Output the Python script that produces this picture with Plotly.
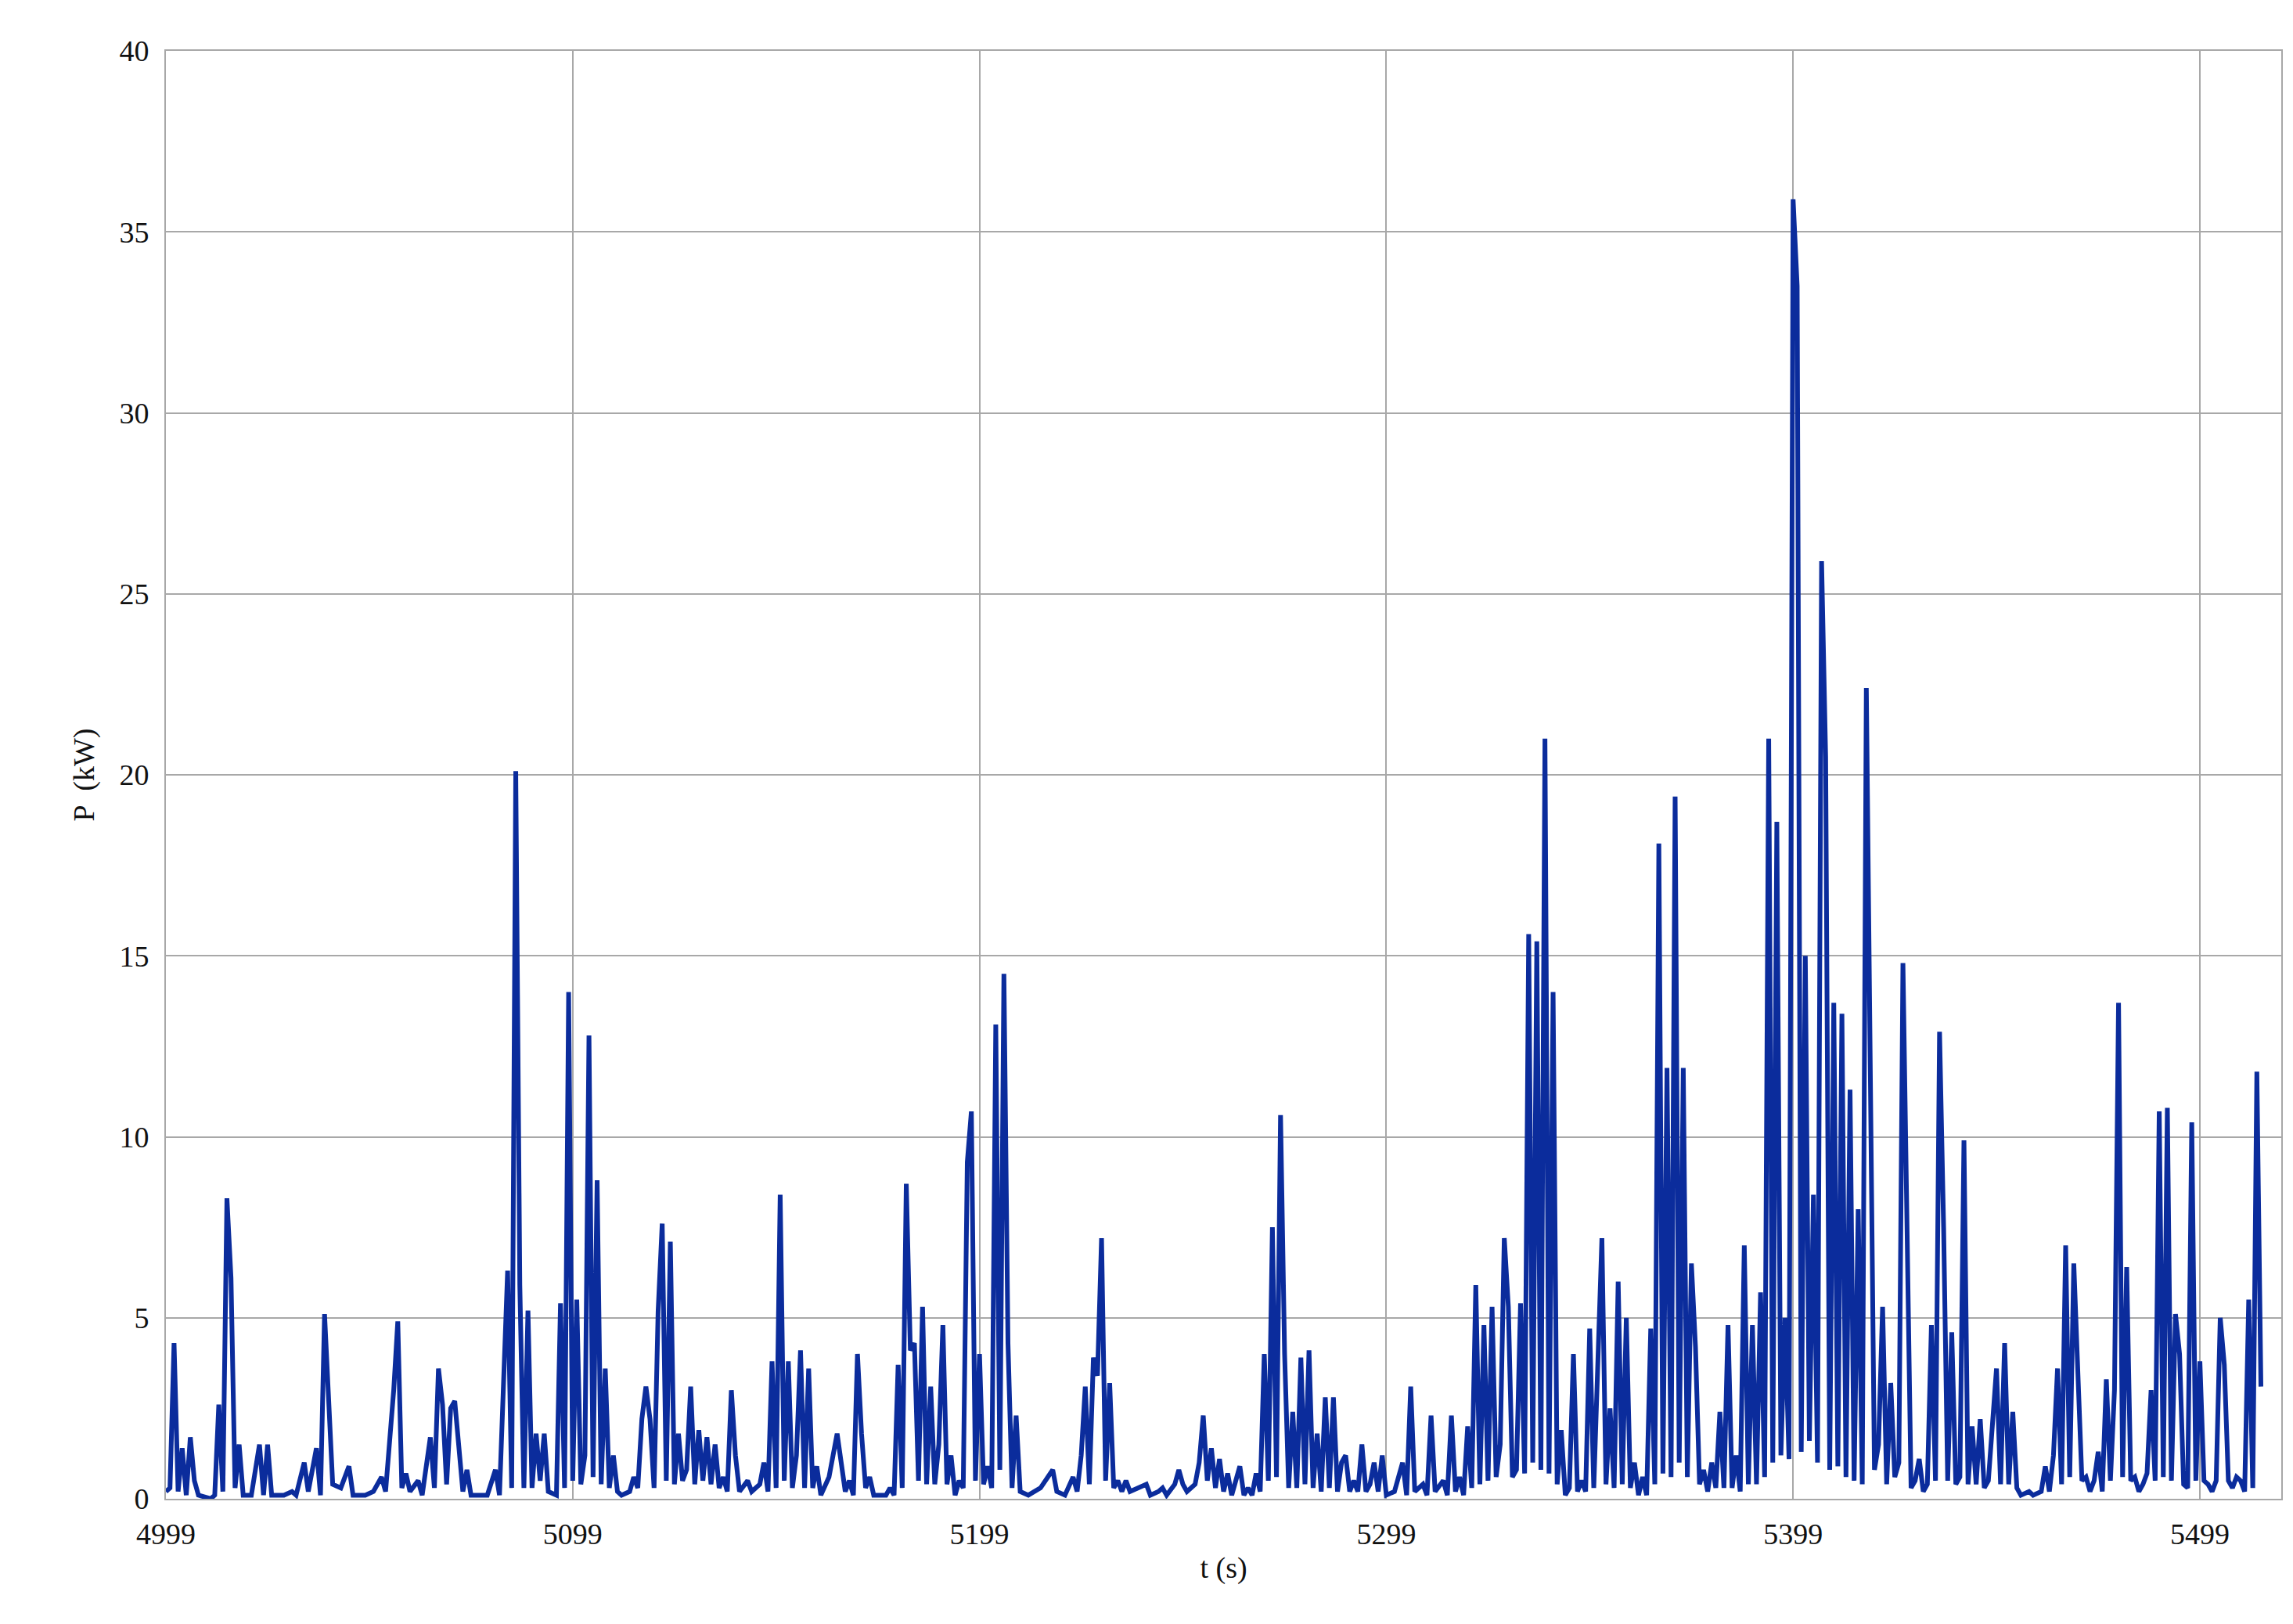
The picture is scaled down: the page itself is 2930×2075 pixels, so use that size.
import plotly.graph_objects as go

# time (s) and power (kW)
t_s = [
    4999, 5000, 5001, 5002, 5003, 5004, 5005, 5006, 5007, 5010, 5011, 5012, 5013, 5014, 5015, 5016,
    5017, 5018, 5020, 5022, 5023, 5024, 5025, 5028, 5030, 5031, 5033, 5034, 5036, 5037, 5038, 5039,
    5040, 5042, 5044, 5045, 5048, 5050, 5052, 5053, 5055, 5056, 5057, 5058, 5059, 5061, 5062, 5064,
    5065, 5066, 5067, 5068, 5069, 5070, 5071, 5072, 5073, 5074, 5076, 5078, 5080, 5081, 5083, 5084,
    5085, 5086, 5087, 5088, 5089, 5090, 5091, 5092, 5093, 5095, 5096, 5097, 5098, 5099, 5100, 5101,
    5102, 5103, 5104, 5105, 5106, 5107, 5108, 5109, 5110, 5111, 5113, 5114, 5115, 5116, 5117, 5118,
    5119, 5120, 5121, 5122, 5123, 5124, 5125, 5126, 5127, 5128, 5129, 5130, 5131, 5132, 5133, 5134,
    5135, 5136, 5137, 5138, 5139, 5140, 5142, 5143, 5145, 5146, 5147, 5148, 5149, 5150, 5151, 5152,
    5153, 5154, 5155, 5156, 5157, 5158, 5159, 5160, 5162, 5163, 5164, 5165, 5166, 5167, 5168, 5169,
    5170, 5171, 5172, 5173, 5176, 5177, 5178, 5179, 5180, 5181, 5182, 5183, 5184, 5185, 5186, 5187,
    5188, 5189, 5190, 5191, 5192, 5193, 5194, 5195, 5196, 5197, 5198, 5199, 5200, 5201, 5202, 5203,
    5204, 5205, 5206, 5207, 5208, 5209, 5211, 5214, 5217, 5218, 5220, 5222, 5223, 5224, 5225, 5226,
    5227, 5228, 5229, 5230, 5231, 5232, 5233, 5234, 5235, 5236, 5238, 5240, 5241, 5243, 5244, 5245,
    5247, 5248, 5249, 5250, 5252, 5253, 5254, 5255, 5256, 5257, 5258, 5259, 5260, 5261, 5262, 5263,
    5264, 5265, 5266, 5267, 5268, 5269, 5270, 5271, 5272, 5273, 5274, 5275, 5276, 5277, 5278, 5279,
    5280, 5281, 5282, 5283, 5284, 5285, 5286, 5287, 5288, 5289, 5290, 5291, 5292, 5293, 5294, 5295,
    5296, 5297, 5298, 5299, 5301, 5303, 5304, 5305, 5306, 5308, 5309, 5310, 5311, 5313, 5314, 5315,
    5316, 5317, 5318, 5319, 5320, 5321, 5322, 5323, 5324, 5325, 5326, 5327, 5328, 5329, 5330, 5331,
    5332, 5333, 5334, 5335, 5336, 5337, 5338, 5339, 5340, 5341, 5342, 5343, 5344, 5345, 5346, 5347,
    5348, 5349, 5350, 5352, 5353, 5354, 5355, 5356, 5357, 5358, 5359, 5360, 5361, 5362, 5363, 5364,
    5365, 5366, 5367, 5368, 5369, 5370, 5371, 5372, 5373, 5374, 5375, 5376, 5377, 5378, 5379, 5380,
    5381, 5382, 5383, 5384, 5385, 5386, 5387, 5388, 5389, 5390, 5391, 5392, 5393, 5394, 5395, 5396,
    5397, 5398, 5399, 5400, 5401, 5402, 5403, 5404, 5405, 5406, 5407, 5408, 5409, 5410, 5411, 5412,
    5413, 5414, 5415, 5416, 5417, 5418, 5419, 5420, 5421, 5422, 5423, 5424, 5425, 5426, 5427, 5428,
    5429, 5430, 5431, 5432, 5433, 5434, 5435, 5436, 5437, 5438, 5439, 5440, 5441, 5442, 5443, 5444,
    5445, 5446, 5447, 5448, 5449, 5450, 5451, 5452, 5453, 5454, 5455, 5457, 5458, 5460, 5461, 5462,
    5463, 5464, 5465, 5466, 5467, 5468, 5469, 5470, 5471, 5472, 5473, 5474, 5475, 5476, 5477, 5478,
    5479, 5480, 5481, 5482, 5483, 5484, 5485, 5486, 5487, 5488, 5489, 5490, 5491, 5492, 5493, 5494,
    5495, 5496, 5497, 5498, 5499, 5500, 5501, 5502, 5503, 5504, 5505, 5506, 5507, 5508, 5509, 5510,
    5511, 5512, 5513, 5514,
]
p_kw = [
    0.2, 0.3, 4.3, 0.2, 1.4, 0.1, 1.7, 0.5, 0.1, 0.0, 0.1, 2.6, 0.2, 8.3, 6.1, 0.3,
    1.5, 0.1, 0.1, 1.5, 0.1, 1.5, 0.1, 0.1, 0.2, 0.1, 1.0, 0.2, 1.4, 0.1, 5.1, 2.4,
    0.4, 0.3, 0.9, 0.1, 0.1, 0.2, 0.6, 0.2, 3.0, 4.9, 0.3, 0.7, 0.2, 0.5, 0.1, 1.7,
    0.3, 3.6, 2.6, 0.4, 2.5, 2.7, 1.5, 0.2, 0.8, 0.1, 0.1, 0.1, 0.8, 0.1, 6.3, 0.3,
    20.1, 5.9, 0.3, 5.2, 0.3, 1.8, 0.5, 1.8, 0.2, 0.1, 5.4, 0.3, 14.0, 0.5, 5.5, 0.4,
    1.2, 12.8, 0.6, 8.8, 0.4, 3.6, 0.3, 1.2, 0.2, 0.1, 0.2, 0.6, 0.3, 2.2, 3.1, 2.2,
    0.3, 5.2, 7.6, 0.5, 7.1, 0.4, 1.8, 0.5, 0.8, 3.1, 0.4, 1.9, 0.5, 1.7, 0.4, 1.5,
    0.3, 0.6, 0.2, 3.0, 1.2, 0.2, 0.5, 0.2, 0.4, 1.0, 0.2, 3.8, 0.3, 8.4, 0.5, 3.8,
    0.3, 1.2, 4.1, 0.3, 3.6, 0.3, 0.9, 0.1, 0.6, 1.2, 1.8, 1.0, 0.2, 0.5, 0.1, 4.0,
    1.8, 0.3, 0.6, 0.1, 0.1, 0.3, 0.1, 3.7, 0.3, 8.7, 4.1, 4.3, 0.5, 5.3, 0.4, 3.1,
    0.4, 1.5, 4.8, 0.4, 1.2, 0.1, 0.5, 0.3, 9.3, 10.7, 0.5, 4.0, 0.4, 0.9, 0.3, 13.1,
    0.8, 14.5, 4.3, 0.3, 2.3, 0.2, 0.1, 0.3, 0.8, 0.2, 0.1, 0.6, 0.2, 1.2, 3.1, 0.4,
    3.9, 3.4, 7.2, 0.5, 3.2, 0.3, 0.5, 0.2, 0.5, 0.2, 0.3, 0.4, 0.1, 0.2, 0.3, 0.1,
    0.4, 0.8, 0.4, 0.2, 0.4, 1.0, 2.3, 0.5, 1.4, 0.3, 1.1, 0.2, 0.7, 0.1, 0.5, 0.9,
    0.1, 0.3, 0.1, 0.7, 0.2, 4.0, 0.5, 7.5, 0.6, 10.6, 4.0, 0.3, 2.4, 0.3, 3.9, 0.4,
    4.1, 0.3, 1.8, 0.2, 2.8, 0.3, 2.8, 0.2, 1.0, 1.2, 0.2, 0.5, 0.2, 1.5, 0.2, 0.4,
    1.0, 0.2, 1.2, 0.1, 0.2, 1.0, 0.1, 3.1, 0.2, 0.4, 0.1, 2.3, 0.2, 0.5, 0.1, 2.3,
    0.2, 0.6, 0.1, 2.0, 0.3, 5.9, 0.4, 4.8, 0.5, 5.3, 0.6, 1.5, 7.2, 5.3, 0.6, 0.8,
    5.4, 0.7, 15.6, 1.0, 15.4, 0.8, 21.0, 0.7, 14.0, 0.4, 1.9, 0.1, 0.3, 4.0, 0.2, 0.5,
    0.2, 4.7, 0.3, 7.2, 0.4, 2.5, 0.3, 6.0, 0.4, 5.0, 0.3, 1.0, 0.1, 0.6, 0.1, 4.7,
    0.4, 18.1, 0.7, 11.9, 0.6, 19.4, 1.0, 11.9, 0.6, 6.5, 4.2, 0.4, 0.8, 0.2, 1.0, 0.3,
    2.4, 0.3, 4.8, 0.3, 1.2, 0.2, 7.0, 0.4, 4.8, 0.4, 5.7, 0.6, 21.0, 1.0, 18.7, 1.2,
    5.0, 1.1, 35.9, 33.5, 1.3, 15.0, 1.6, 8.4, 1.0, 25.9, 20.5, 0.8, 13.7, 0.9, 13.4, 0.6,
    11.3, 0.5, 8.0, 0.4, 22.4, 10.8, 0.8, 1.5, 5.3, 0.4, 3.2, 0.6, 1.0, 14.8, 8.2, 0.3,
    0.5, 1.1, 0.2, 0.4, 4.8, 0.5, 12.9, 7.5, 0.5, 4.6, 0.4, 0.6, 9.9, 0.4, 2.0, 0.4,
    2.2, 0.3, 0.5, 1.9, 3.6, 0.4, 4.3, 0.4, 2.4, 0.3, 0.1, 0.2, 0.1, 0.2, 0.9, 0.2,
    1.2, 3.6, 0.4, 7.0, 0.6, 6.5, 3.8, 0.5, 0.6, 0.2, 0.5, 1.3, 0.2, 3.3, 0.5, 3.0,
    13.7, 0.6, 6.4, 0.5, 0.6, 0.2, 0.4, 0.7, 3.0, 0.5, 10.7, 0.6, 10.8, 0.5, 5.1, 4.0,
    0.4, 0.3, 10.4, 0.5, 3.8, 0.5, 0.4, 0.2, 0.5, 5.0, 3.7, 0.5, 0.3, 0.6, 0.5, 0.2,
    5.5, 0.3, 11.8, 3.1,
]
x_ticks = [4999, 5099, 5199, 5299, 5399, 5499]
y_ticks = [0, 5, 10, 15, 20, 25, 30, 35, 40]

fig = go.Figure(
    go.Scatter(
        x=t_s,
        y=p_kw,
        mode="lines",
        line=dict(color="#0b2c9c", width=6),
        showlegend=False,
    )
)

axis_font = dict(family="Liberation Serif, Times New Roman, serif", size=38, color="#111")
fig.update_xaxes(
    range=[4999, 5519],
    tickvals=x_ticks,
    ticktext=[str(v) for v in x_ticks],
    showgrid=True,
    gridcolor="#a8a8a8",
    gridwidth=2,
    showline=True,
    linecolor="#a8a8a8",
    linewidth=2,
    mirror=True,
    zeroline=False,
    tickfont=axis_font,
    ticks="outside",
    ticklen=10,
    tickcolor="white",
    title=dict(text="t (s)", font=axis_font, standoff=10),
)
fig.update_yaxes(
    range=[0, 40],
    tickvals=y_ticks,
    showgrid=True,
    gridcolor="#a8a8a8",
    gridwidth=2,
    showline=True,
    linecolor="#a8a8a8",
    linewidth=2,
    mirror=True,
    zeroline=False,
    tickfont=axis_font,
    ticks="outside",
    ticklen=12,
    tickcolor="white",
    title=dict(text="P  (kW)", font=axis_font, standoff=20),
)
fig.update_layout(
    width=2930,
    height=2075,
    margin=dict(l=204, r=23, t=57, b=168),
    plot_bgcolor="white",
    paper_bgcolor="white",
)

fig.write_html("out.html")
